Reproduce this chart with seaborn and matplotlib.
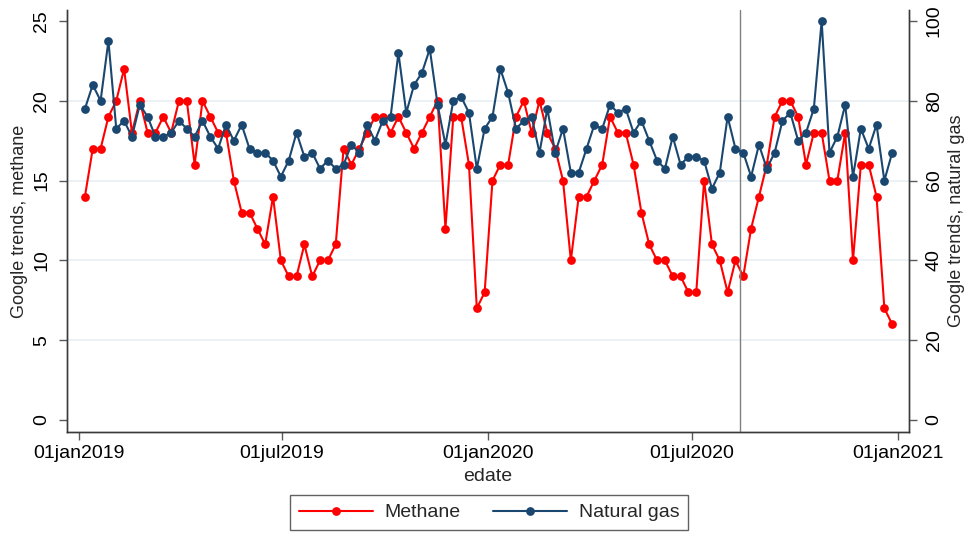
import matplotlib
matplotlib.use("Agg")
import matplotlib.pyplot as plt
import matplotlib.dates as mdates
from matplotlib.lines import Line2D
import numpy as np
import pandas as pd
import seaborn as sns

# weekly Google trends, Jan 2019 - Dec 2020
methane = [14, 17, 17, 19, 20, 22, 18, 20, 18, 18, 19, 18, 20, 20, 16, 20, 19, 18, 18, 15,
           13, 13, 12, 11, 14, 10, 9, 9, 11, 9, 10, 10, 11, 17, 16, 17, 18, 19, 19, 18,
           19, 18, 17, 18, 19, 20, 12, 19, 19, 16, 7, 8, 15, 16, 16, 19, 20, 18, 20, 18,
           17, 15, 10, 14, 14, 15, 16, 19, 18, 18, 16, 13, 11, 10, 10, 9, 9, 8, 8, 15,
           11, 10, 8, 10, 9, 12, 14, 16, 19, 20, 20, 19, 16, 18, 18, 15, 15, 18, 10, 16,
           16, 14, 7, 6]
natural_gas = [78, 84, 80, 95, 73, 75, 71, 79, 76, 71, 71, 72, 75, 73, 71, 75, 71, 68, 74, 70,
               74, 68, 67, 67, 65, 61, 65, 72, 66, 67, 63, 65, 63, 64, 69, 67, 74, 70, 75, 76,
               92, 77, 84, 87, 93, 79, 69, 80, 81, 77, 63, 73, 76, 88, 82, 73, 75, 76, 67, 78,
               67, 73, 62, 62, 68, 74, 73, 79, 77, 78, 72, 75, 70, 65, 63, 71, 64, 66, 66, 65,
               58, 62, 76, 68, 67, 61, 69, 63, 67, 75, 77, 70, 72, 78, 100, 67, 71, 79, 61, 73,
               68, 74, 60, 67]
edate = pd.date_range("2019-01-06", periods=len(methane), freq="W-SUN")
event_date = pd.Timestamp("2020-08-13")

df = pd.DataFrame({"edate": edate, "methane": methane, "natural_gas": natural_gas})

sns.set_theme(style="white")
plt.rcParams["font.family"] = ["Liberation Sans", "DejaVu Sans"]

red = "#ff0000"
navy = "#1a476f"
spine_col = "#3a3a3a"
fs = 14
lab_fs = 13

fig = plt.figure(figsize=(9.67, 5.36), dpi=100)
ax = fig.add_axes([67 / 967, 1 - 432 / 536, (909 - 67) / 967, (432 - 10) / 536])
ax2 = ax.twinx()

for y in [5, 10, 15, 20]:
    ax.axhline(y, color="#e8eff2", lw=1.2, zorder=0)

sns.lineplot(data=df, x="edate", y="methane", ax=ax, color=red, lw=1.5,
             marker="o", markersize=6.3, markeredgewidth=0, zorder=3)
sns.lineplot(data=df, x="edate", y="natural_gas", ax=ax2, color=navy, lw=1.5,
             marker="o", markersize=6.3, markeredgewidth=0, zorder=3)
ax2.axvline(event_date, color="#808080", lw=1.0, zorder=1)

ax.set_ylim(-0.75, 25.69)
ax2.set_ylim(-3, 102.75)
ax.set_xlim(pd.Timestamp("2018-12-21"), pd.Timestamp("2021-01-11"))

ax.set_yticks([0, 5, 10, 15, 20, 25])
ax2.set_yticks([0, 20, 40, 60, 80, 100])
xt = pd.to_datetime(["2019-01-01", "2019-07-01", "2020-01-01", "2020-07-01", "2021-01-01"])
ax.set_xticks(xt)
ax.xaxis.set_major_formatter(plt.FuncFormatter(
    lambda v, p: mdates.num2date(v).strftime("%d%b%Y").lower()))

for a in (ax, ax2):
    for s in a.spines.values():
        s.set_color(spine_col)
        s.set_linewidth(1.0)
    a.spines["top"].set_visible(False)
    a.tick_params(axis="both", direction="out", length=6, width=1.0,
                  color="#5a5a5a", labelsize=fs, colors="black")
    a.grid(False)

ax.tick_params(axis="y", left=True, pad=6)
ax2.tick_params(axis="y", right=True, pad=6)
ax.tick_params(axis="x", bottom=True, pad=3)
for lbl in ax.get_yticklabels():
    lbl.set_rotation(90)
    lbl.set_va("center")
for lbl in ax2.get_yticklabels():
    lbl.set_rotation(90)
    lbl.set_va("center")

ax.set_xlabel("edate", fontsize=fs, labelpad=5)
ax.set_ylabel("Google trends, methane", fontsize=lab_fs, labelpad=4)
ax2.set_ylabel("Google trends, natural gas", fontsize=lab_fs, labelpad=4, rotation=90)

handles = [Line2D([], [], color=red, lw=1.5, marker="o", markersize=6.3, markeredgewidth=0),
           Line2D([], [], color=navy, lw=1.5, marker="o", markersize=6.3, markeredgewidth=0)]
leg = fig.legend(handles, ["Methane", "Natural gas"], loc="lower center",
                 bbox_to_anchor=(489 / 967, 0.0), ncol=2, frameon=True, fancybox=False,
                 fontsize=fs, handlelength=3.8, columnspacing=1.65, borderpad=0.45,
                 handletextpad=0.62, borderaxespad=0.3)
leg.get_frame().set_edgecolor("#3a3a3a")
leg.get_frame().set_linewidth(1.0)

fig.savefig("out.png", dpi=100, facecolor="white")
